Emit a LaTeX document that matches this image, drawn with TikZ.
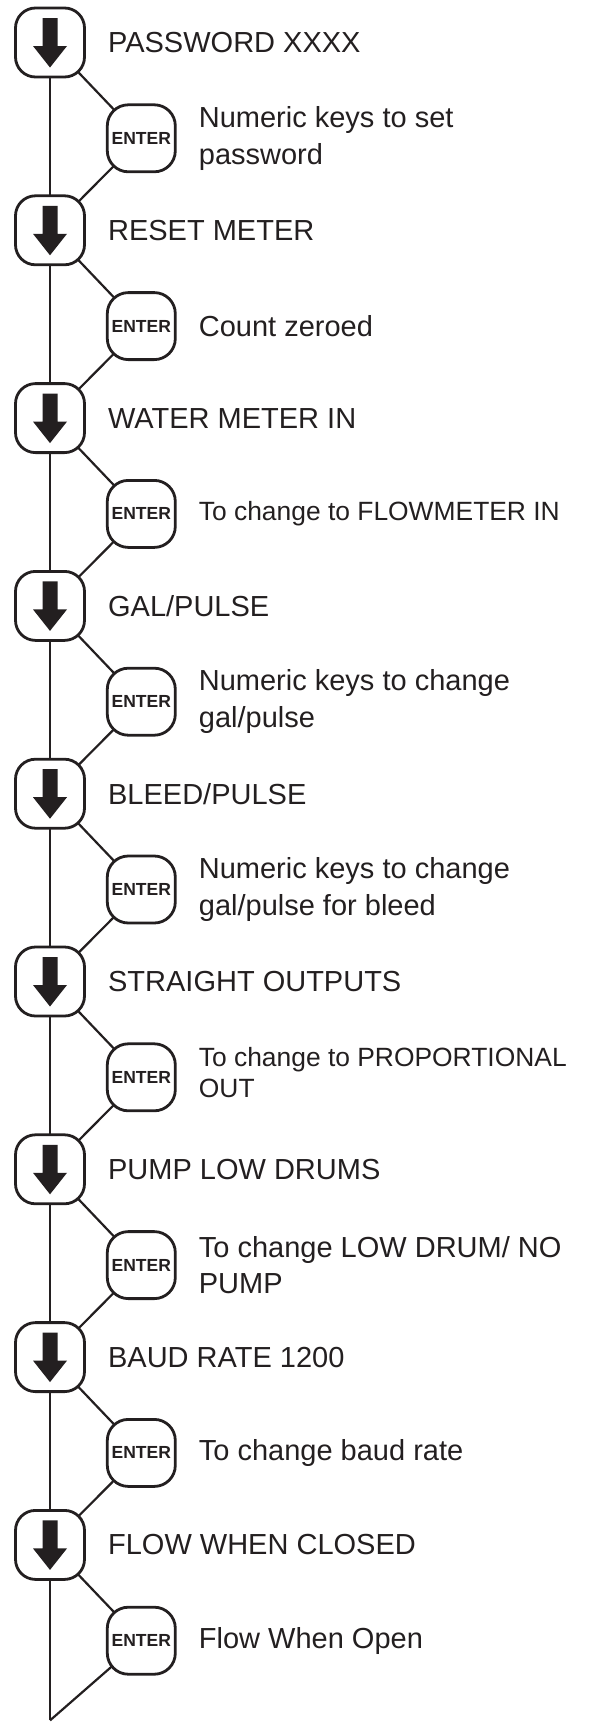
\documentclass[tikz,border=0pt]{standalone}
\usepackage{fontspec}
\setmainfont{Liberation Sans}
\usetikzlibrary{backgrounds,positioning}
\definecolor{ink}{RGB}{35,31,32}

\begin{document}
\begin{tikzpicture}[x=1pt,y=1pt]
    \tikzstyle{downkey}=[rectangle,draw=ink,fill=white,line width=2.8pt,
    rounded corners=20pt,inner sep=0pt,minimum width=69pt,minimum height=69pt,
    path picture={\fill[ink,sharp corners,shift={(path picture bounding box.center)}]
      (-7.5,24.5) -- (7.5,24.5) -- (7.5,-3.5) -- (17,-3.5) -- (0,-25)
      -- (-17,-3.5) -- (-7.5,-3.5) -- cycle;}]

    \tikzstyle{enterkey}=[rectangle,draw=ink,fill=white,line width=2.8pt,
    rounded corners=21pt,inner sep=0pt,minimum width=68pt,minimum height=67pt,
    text=ink,font=\bfseries\fontsize{17.5}{20}\selectfont]

    \tikzstyle{txt}=[inner sep=0pt,align=left,text=ink,font=\fontsize{29}{36.5}\selectfont]
    \tikzstyle{smalltxt}=[font=\fontsize{26.4}{31}\selectfont]
    \tikzstyle{wire}=[draw=ink,line width=2.2pt]

    \useasboundingbox (0,0) rectangle (590,-1724);

    \node[downkey](pass) at (50,-42.5){};
    \node[txt](pass_txt)[right=22pt of pass]{PASSWORD XXXX};
    \node[enterkey](pass_ent)[below right=25pt and 20pt of pass]{ENTER};
    \node[txt](pass_note)[right=22pt of pass_ent]{Numeric keys to set\\password};

    \node[downkey](reset)[below=116pt of pass]{};
    \node[txt](reset_txt)[right=22pt of reset]{RESET METER};
    \node[enterkey](reset_ent)[below right=25pt and 20pt of reset]{ENTER};
    \node[txt](reset_note)[right=22pt of reset_ent]{Count zeroed};

    \node[downkey](water)[below=116pt of reset]{};
    \node[txt](water_txt)[right=22pt of water]{WATER METER IN};
    \node[enterkey](water_ent)[below right=25pt and 20pt of water]{ENTER};
    \node[txt,smalltxt](water_note)[right=22pt of water_ent]{To change to FLOWMETER IN};

    \node[downkey](gal)[below=116pt of water]{};
    \node[txt](gal_txt)[right=22pt of gal]{GAL/PULSE};
    \node[enterkey](gal_ent)[below right=25pt and 20pt of gal]{ENTER};
    \node[txt](gal_note)[right=22pt of gal_ent]{Numeric keys to change\\gal/pulse};

    \node[downkey](bleed)[below=116pt of gal]{};
    \node[txt](bleed_txt)[right=22pt of bleed]{BLEED/PULSE};
    \node[enterkey](bleed_ent)[below right=25pt and 20pt of bleed]{ENTER};
    \node[txt](bleed_note)[right=22pt of bleed_ent]{Numeric keys to change\\gal/pulse for bleed};

    \node[downkey](straight)[below=116pt of bleed]{};
    \node[txt](straight_txt)[right=22pt of straight]{STRAIGHT OUTPUTS};
    \node[enterkey](straight_ent)[below right=25pt and 20pt of straight]{ENTER};
    \node[txt,smalltxt](straight_note)[right=22pt of straight_ent,yshift=5pt]{To change to PROPORTIONAL\\OUT};

    \node[downkey](pump)[below=116pt of straight]{};
    \node[txt](pump_txt)[right=22pt of pump]{PUMP LOW DRUMS};
    \node[enterkey](pump_ent)[below right=25pt and 20pt of pump]{ENTER};
    \node[txt](pump_note)[right=22pt of pump_ent]{To change LOW DRUM/ NO\\PUMP};

    \node[downkey](baud)[below=116pt of pump]{};
    \node[txt](baud_txt)[right=22pt of baud]{BAUD RATE 1200};
    \node[enterkey](baud_ent)[below right=25pt and 20pt of baud]{ENTER};
    \node[txt](baud_note)[right=22pt of baud_ent]{To change baud rate};

    \node[downkey](flow)[below=116pt of baud]{};
    \node[txt](flow_txt)[right=22pt of flow]{FLOW WHEN CLOSED};
    \node[enterkey](flow_ent)[below right=25pt and 20pt of flow]{ENTER};
    \node[txt](flow_note)[right=22pt of flow_ent]{Flow When Open};

    \path (flow.center) ++(0,-175.5) coordinate (tail);

    % lines run behind the keys
    \begin{scope}[on background layer]
    \draw[wire] (pass.center) -- (reset.center) -- (water.center) -- (gal.center)
      -- (bleed.center) -- (straight.center) -- (pump.center) -- (baud.center)
      -- (flow.center) -- (tail);

    \draw[wire] (pass.center) -- (pass_ent.center) -- (reset.center);
    \draw[wire] (reset.center) -- (reset_ent.center) -- (water.center);
    \draw[wire] (water.center) -- (water_ent.center) -- (gal.center);
    \draw[wire] (gal.center) -- (gal_ent.center) -- (bleed.center);
    \draw[wire] (bleed.center) -- (bleed_ent.center) -- (straight.center);
    \draw[wire] (straight.center) -- (straight_ent.center) -- (pump.center);
    \draw[wire] (pump.center) -- (pump_ent.center) -- (baud.center);
    \draw[wire] (baud.center) -- (baud_ent.center) -- (flow.center);
    \draw[wire] (flow.center) -- (flow_ent.center) -- (tail);
    \end{scope}
  \end{tikzpicture}
\end{document}
